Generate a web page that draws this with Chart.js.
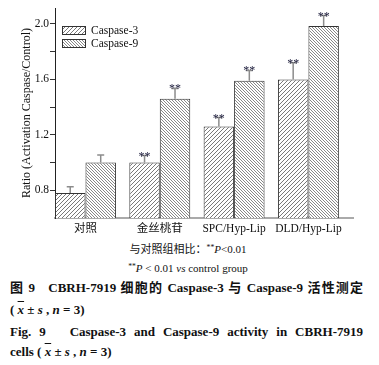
<!DOCTYPE html>
<html>
<head>
<meta charset="utf-8">
<script src="https://cdn.jsdelivr.net/npm/chart.js@4.4.1/dist/chart.umd.min.js"></script>
<style>
  html, body { margin:0; padding:0; background:#fff; }
  #wrap { position:relative; width:379px; height:365px; overflow:hidden; }
  canvas { position:absolute; left:0; top:0; }
  .t { position:absolute; white-space:nowrap; font-family:"Liberation Serif","Noto Sans CJK SC",serif; color:#111; }
  .b { font-weight:bold; }
  .j { text-align:justify; text-align-last:justify; white-space:normal; }
  .ov { text-decoration:overline; font-style:italic; }
  i { font-style:italic; }
  sup { font-size:0.7em; vertical-align:0.45em; line-height:0; }
</style>
</head>
<body>
<div id="wrap">
  <canvas id="c" width="379" height="242"></canvas>
  <div class="t" style="left:0;width:376px;text-align:center;top:242px;font-size:11px;line-height:14px;">与对照组相比：<sup>**</sup><i>P</i>&lt;0.01</div>
  <div class="t" style="left:0;width:376px;text-align:center;top:261px;font-size:11px;line-height:14px;"><sup>**</sup><i>P</i> &lt; 0.01 <i>vs</i> control group</div>
  <div class="t b j" style="left:10px;width:353px;top:279px;font-size:13px;line-height:18px;">图 9&nbsp;&nbsp; CBRH-7919 细胞的 Caspase-3 与 Caspase-9 活性测定</div>
  <div class="t b" style="left:10px;top:301px;font-size:13px;line-height:18px;">( <span class="ov">x</span> ± <i>s</i> , <i>n</i> = 3)</div>
  <div class="t b j" style="left:10px;width:353px;top:323px;font-size:13px;line-height:18px;">Fig. 9&nbsp;&nbsp; Caspase-3 and Caspase-9 activity in CBRH-7919</div>
  <div class="t b" style="left:10px;top:343px;font-size:13px;line-height:18px;">cells ( <span class="ov">x</span> ± <i>s</i> , <i>n</i> = 3)</div>
</div>
<script>
// ---- data ----
const categories = ['对照', '金丝桃苷', 'SPC/Hyp-Lip', 'DLD/Hyp-Lip'];
const seriesNames = ['Caspase-3', 'Caspase-9'];
const caspase3 = [0.78, 1.00, 1.26, 1.60];
const caspase9 = [1.00, 1.46, 1.59, 1.985];
const caspase3Err = [0.045, 0.05, 0.065, 0.12];
const caspase9Err = [0.055, 0.075, 0.075, 0.075];
const caspase3Sig = ['', '**', '**', '**'];
const caspase9Sig = ['', '**', '**', '**'];
const yTicks = [0.8, 1.0, 1.2, 1.4, 1.6, 1.8, 2.0];
const yLabelTicks = [0.8, 1.2, 1.6, 2.0];

const SERIF = '"Liberation Serif", "Noto Sans CJK SC", serif';

function makePattern(size, dir, color, lw) {
  const c = document.createElement('canvas');
  c.width = size; c.height = size;
  const g = c.getContext('2d');
  g.fillStyle = '#fff'; g.fillRect(0, 0, size, size);
  g.strokeStyle = color; g.lineWidth = lw;
  g.beginPath();
  for (let k = -1; k <= 1; k++) {
    if (dir === '/') { g.moveTo(k * size, size); g.lineTo(k * size + size, 0); }
    else { g.moveTo(k * size, 0); g.lineTo(k * size + size, size); }
  }
  g.stroke();
  return g.createPattern(c, 'repeat');
}
const pat3 = makePattern(4, '/', '#6a6a6a', 0.9);
const pat9 = makePattern(3, '\\', '#7a7a7a', 0.9);

const errs = [caspase3Err, caspase9Err];
const sigs = [caspase3Sig, caspase9Sig];

const overlay = {
  id: 'overlay',
  afterDatasetsDraw(chart) {
    const ctx = chart.ctx, ys = chart.scales.y;
    ctx.save();
    chart.data.datasets.forEach((ds, di) => {
      const meta = chart.getDatasetMeta(di);
      meta.data.forEach((bar, i) => {
        const v = ds.data[i].y;
        const yTop = ys.getPixelForValue(v + errs[di][i]);
        const x = bar.x;
        ctx.strokeStyle = '#8c8c8c';
        ctx.lineWidth = 1.5;
        ctx.beginPath();
        ctx.moveTo(x, bar.y); ctx.lineTo(x, yTop);
        ctx.moveTo(x - 3.5, yTop); ctx.lineTo(x + 3.5, yTop);
        ctx.stroke();
        if (sigs[di][i]) {
          ctx.fillStyle = '#1a1a3a';
          ctx.font = '12px ' + SERIF;
          ctx.textAlign = 'center';
          ctx.textBaseline = 'alphabetic';
          ctx.fillText(sigs[di][i], x, yTop + 4);
        }
      });
    });
    // legend
    const pats = [pat3, pat9];
    const boxY = [26, 39];
    ctx.font = '11.5px ' + SERIF;
    ctx.textAlign = 'left';
    ctx.textBaseline = 'middle';
    seriesNames.forEach((n, k) => {
      ctx.fillStyle = pats[k];
      ctx.fillRect(62, boxY[k], 24, 9);
      ctx.strokeStyle = '#333'; ctx.lineWidth = 1;
      ctx.strokeRect(62.5, boxY[k] + 0.5, 23, 8);
      ctx.fillStyle = '#111';
      ctx.fillText(n, 91, boxY[k] + 5);
    });
    ctx.restore();
  }
};

new Chart(document.getElementById('c'), {
  type: 'bar',
  data: {
    datasets: [
      { label: seriesNames[0], data: caspase3.map((v, i) => ({ x: i, y: v })), backgroundColor: pat3, borderColor: '#333', borderWidth: 1, borderSkipped: 'bottom' },
      { label: seriesNames[1], data: caspase9.map((v, i) => ({ x: i, y: v })), backgroundColor: pat9, borderColor: '#333', borderWidth: 1, borderSkipped: 'bottom' }
    ]
  },
  options: {
    responsive: false,
    animation: false,
    categoryPercentage: 0.82,
    barPercentage: 1.0,
    layout: { padding: { top: 8, right: 26, left: 0, bottom: 0 } },
    plugins: { legend: { display: false }, tooltip: { enabled: false } },
    scales: {
      x: {
        type: 'linear',
        offset: false,
        min: -0.41,
        max: 3.6,
        grid: { display: false, drawTicks: false, offset: false },
        border: { display: true, color: '#aaaaaa', width: 2 },
        afterBuildTicks: (s) => { s.ticks = categories.map((_, i) => ({ value: i })); },
        afterFit: (s) => { s.height = 24; },
        ticks: {
          autoSkip: false, maxRotation: 0, padding: 4,
          color: '#111',
          font: { family: SERIF, size: 11.5 },
          callback: (v) => categories[v] ?? ''
        }
      },
      y: {
        min: 0.6,
        max: 2.115,
        beginAtZero: false,
        afterBuildTicks: (s) => { s.ticks = yTicks.map(v => ({ value: v })); },
        afterFit: (s) => { s.width = 55; },
        grid: { drawOnChartArea: false, drawTicks: true, tickLength: 5, color: '#333' },
        border: { display: true, color: '#222', width: 1 },
        ticks: {
          padding: 1, color: '#111',
          font: { family: SERIF, size: 11.5 },
          callback: (v) => yLabelTicks.some(t => Math.abs(t - v) < 1e-6) ? v.toFixed(1) : ''
        },
        title: {
          display: true,
          text: 'Ratio (Activation Caspase/Control)',
          color: '#111',
          font: { family: SERIF, size: 12 },
          padding: { top: 20, bottom: 0 }
        }
      }
    }
  },
  plugins: [overlay]
});
</script>
</body>
</html>
